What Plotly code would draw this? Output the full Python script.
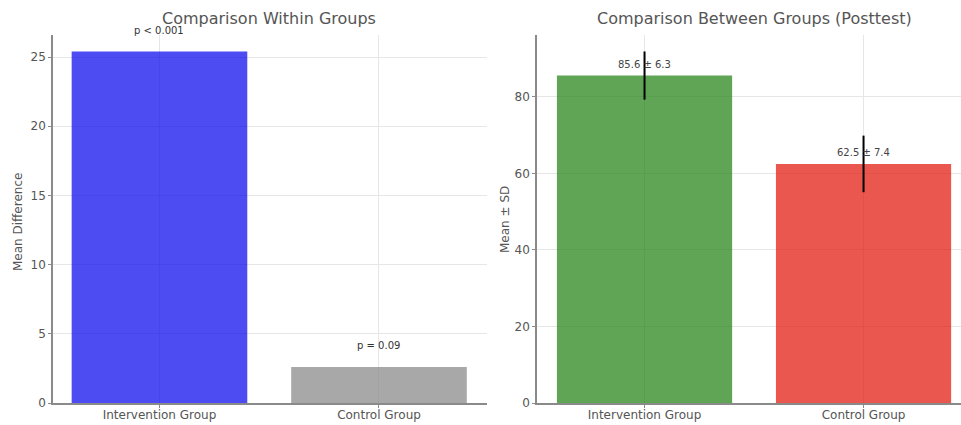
import plotly.graph_objects as go

# Data
groups = ["Intervention Group", "Control Group"]
within_mean_diff = [25.4, 2.6]
within_p_labels = ["p < 0.001", "p = 0.09"]
post_means = [85.6, 62.5]
post_sds = [6.3, 7.4]

W, H = 961, 425
FONT = "DejaVu Sans"
TXT = "#555555"
AX = "#8a8a8a"
GRID = "#e6e6e6"

def px_x(p):
    return p / W

def px_y(p):
    return 1 - p / H

fig = go.Figure()

fig.add_trace(go.Bar(
    x=[0, 1], y=within_mean_diff,
    marker=dict(color=["rgba(0,0,236,0.7)", "rgba(131,131,131,0.7)"], line=dict(width=0)),
    width=0.8,
    xaxis="x", yaxis="y", showlegend=False, hoverinfo="skip",
))

fig.add_trace(go.Bar(
    x=[0, 1], y=post_means,
    marker=dict(color=["rgba(28,125,14,0.7)", "rgba(224,15,4,0.7)"], line=dict(width=0)),
    width=0.8,
    error_y=dict(type="data", array=post_sds, visible=True, color="black", thickness=2, width=0),
    xaxis="x2", yaxis="y2", showlegend=False, hoverinfo="skip",
))

annotations = []
for i, (v, lab) in enumerate(zip(within_mean_diff, within_p_labels)):
    annotations.append(dict(x=i, y=v + 1, xref="x", yref="y", text=lab, showarrow=False,
                            yanchor="bottom", font=dict(family=FONT, size=10, color="#333333")))
for i, (m, s) in enumerate(zip(post_means, post_sds)):
    annotations.append(dict(x=i, y=m + 1, xref="x2", yref="y2", text=f"{m} ± {s}", showarrow=False,
                            yanchor="bottom", font=dict(family=FONT, size=10, color="#444444")))

annotations.append(dict(x=px_x(269), y=px_y(19), xref="paper", yref="paper", text="Comparison Within Groups",
                        showarrow=False, xanchor="center", yanchor="middle",
                        font=dict(family=FONT, size=16, color=TXT)))
annotations.append(dict(x=px_x(754), y=px_y(19), xref="paper", yref="paper", text="Comparison Between Groups (Posttest)",
                        showarrow=False, xanchor="center", yanchor="middle",
                        font=dict(family=FONT, size=16, color=TXT)))
annotations.append(dict(x=px_x(18), y=px_y(222), xref="paper", yref="paper", text="Mean Difference",
                        showarrow=False, textangle=-90, xanchor="center", yanchor="middle",
                        font=dict(family=FONT, size=12, color=TXT)))
annotations.append(dict(x=px_x(505), y=px_y(219), xref="paper", yref="paper", text="Mean ± SD",
                        showarrow=False, textangle=-90, xanchor="center", yanchor="middle",
                        font=dict(family=FONT, size=12, color=TXT)))

common_x = dict(
    tickmode="array", tickvals=[0, 1], ticktext=groups,
    showgrid=True, gridcolor=GRID, gridwidth=1,
    showline=True, linecolor=AX, linewidth=1.5,
    ticks="outside", ticklen=3, tickcolor=AX, ticklabelstandoff=-3,
    tickfont=dict(family=FONT, size=12, color=TXT),
    zeroline=False, fixedrange=True, automargin=False,
)
common_y = dict(
    showgrid=True, gridcolor=GRID, gridwidth=1,
    showline=True, linecolor=AX, linewidth=1.5,
    ticks="outside", ticklen=3, tickcolor=AX,
    tickfont=dict(family=FONT, size=12, color=TXT),
    zeroline=False, fixedrange=True, automargin=False,
)

fig.update_layout(
    width=W, height=H,
    margin=dict(l=0, r=0, t=0, b=0),
    paper_bgcolor="white", plot_bgcolor="white",
    bargap=0.2,
    xaxis=dict(domain=[px_x(53), px_x(487)], range=[-0.485, 1.492], anchor="y", **common_x),
    yaxis=dict(domain=[px_y(403), px_y(35)], range=[0, 26.59], anchor="x",
               tickvals=[0, 5, 10, 15, 20, 25], **common_y),
    xaxis2=dict(domain=[px_x(537), 1.0], range=[-0.491, 1.445], anchor="y2", **common_x),
    yaxis2=dict(domain=[px_y(403), px_y(35)], range=[0, 96.2], anchor="x2",
                tickvals=[0, 20, 40, 60, 80], **common_y),
    annotations=annotations,
    font=dict(family=FONT),
)

fig.write_html("out.html", config={"displayModeBar": False},
               post_script="document.body.style.margin='0';document.body.style.overflow='hidden';")
